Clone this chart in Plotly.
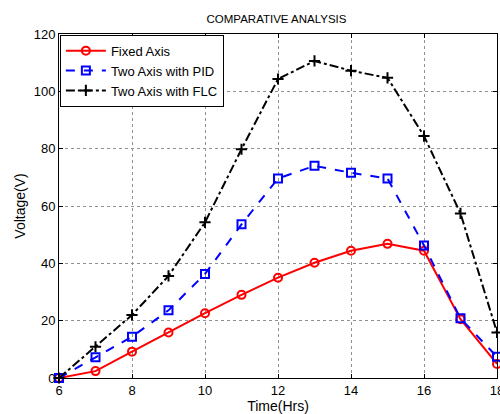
import plotly.graph_objects as go

time_hrs = [6, 7, 8, 9, 10, 11, 12, 13, 14, 15, 16, 17, 18]
fixed_axis = [0, 2.4, 9.2, 15.9, 22.6, 29.0, 35.0, 40.2, 44.4, 46.8, 44.4, 20.5, 4.9]
two_axis_pid = [0, 7.2, 14.4, 23.6, 36.3, 53.6, 69.6, 74.0, 71.6, 69.6, 46.2, 20.8, 7.4]
two_axis_flc = [0, 10.9, 22.0, 35.6, 54.3, 79.8, 104.3, 110.6, 107.2, 104.7, 84.4, 57.4, 15.9]

font = "Liberation Sans, Arial, sans-serif"

fig = go.Figure()
fig.add_trace(go.Scatter(
    x=time_hrs, y=fixed_axis, name="Fixed Axis", mode="lines+markers", cliponaxis=False,
    line=dict(color="#ff0000", width=2),
    marker=dict(symbol="circle-open", size=8, color="#ff0000", line=dict(width=2))))
fig.add_trace(go.Scatter(
    x=time_hrs, y=two_axis_pid, name="Two Axis with PID", mode="lines+markers", cliponaxis=False,
    line=dict(color="#0000ff", width=2, dash="dash"),
    marker=dict(symbol="square-open", size=8, color="#0000ff", line=dict(width=2))))
fig.add_trace(go.Scatter(
    x=time_hrs, y=two_axis_flc, name="Two Axis with FLC", mode="lines+markers", cliponaxis=False,
    line=dict(color="#000000", width=2, dash="dashdot"),
    marker=dict(symbol="cross-thin-open", size=8, color="#000000", line=dict(width=2))))

axis_common = dict(
    showline=True, linecolor="black", linewidth=1, mirror="allticks",
    ticks="inside", ticklen=4, tickcolor="black", automargin=False,
    ticklabeloverflow="allow",
    showgrid=True, gridcolor="#909090", griddash="dot", gridwidth=1,
    zeroline=False, tickfont=dict(size=13, color="black", family=font),
)

fig.update_xaxes(range=[6, 18], dtick=2, tick0=6,
                 title=dict(text="Time(Hrs)", font=dict(size=14, color="black", family=font), standoff=2),
                 **axis_common)
fig.update_yaxes(range=[0, 120], dtick=20,
                 title=dict(text="Voltage(V)", font=dict(size=14, color="black", family=font), standoff=4),
                 **axis_common)

fig.update_layout(
    width=500, height=414,
    margin=dict(l=59, r=3, t=34, b=36, autoexpand=False),
    paper_bgcolor="white", plot_bgcolor="white",
    font=dict(family=font, color="black"),
    title=dict(text="COMPARATIVE ANALYSIS", x=0.553, xanchor="center", y=0.955, yanchor="middle",
               font=dict(size=11.5, color="black", family=font), automargin=False),
    showlegend=True,
    legend=dict(x=0.002, y=0.998, xanchor="left", yanchor="top",
                bordercolor="black", borderwidth=1, bgcolor="white",
                font=dict(size=13, color="black", family=font),
                tracegroupgap=0, itemwidth=40),
)

fig.write_html("out.html", config={"displayModeBar": False},
               post_script="document.body.style.margin='0';document.body.style.overflow='hidden';")
